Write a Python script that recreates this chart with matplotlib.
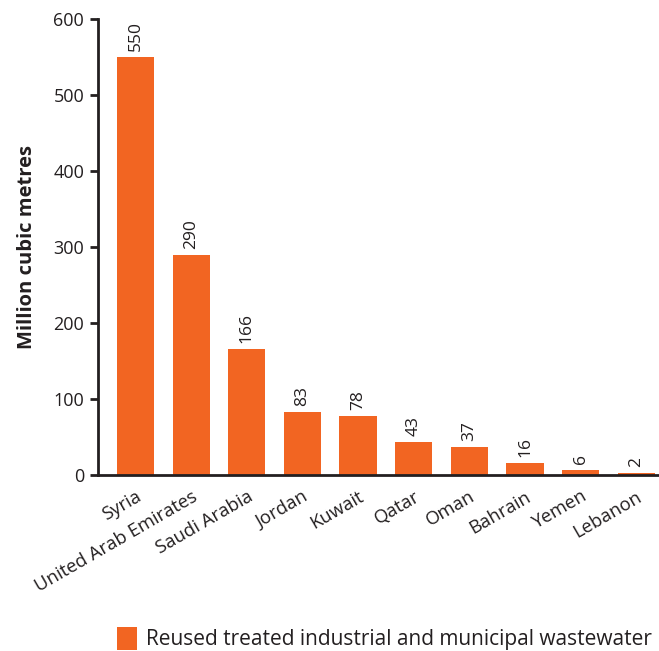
import matplotlib.pyplot as plt
import numpy as np

countries = ["Syria", "United Arab Emirates", "Saudi Arabia", "Jordan", "Kuwait",
             "Qatar", "Oman", "Bahrain", "Yemen", "Lebanon"]
values = [550, 290, 166, 83, 78, 43, 37, 16, 6, 2]
yticks = [0, 100, 200, 300, 400, 500, 600]

orange = "#F26522"
dark = "#231F20"

plt.rcParams["font.family"] = ["Open Sans", "DejaVu Sans"]

fig = plt.figure(figsize=(6.59, 6.51), dpi=100)
ax = fig.add_axes([0.1487, 0.2704, 0.8513, 0.7004])

x = np.arange(len(countries))
bars = ax.bar(x, values, width=0.67, color=orange,
              label="Reused treated industrial and municipal wastewater")

for xi, v in zip(x, values):
    ax.text(xi, v + 8, str(v), rotation=90, ha="center", va="bottom",
            fontsize=12.5, color=dark)

ax.set_xlim(-0.675, 9.41)
ax.set_ylim(0, 600)
ax.set_yticks(yticks)
ax.set_xticks(x)
ax.set_xticklabels(countries, rotation=30, ha="right", rotation_mode="anchor",
                   fontsize=13.3, color=dark)
ax.tick_params(axis="x", length=0, pad=9)
ax.tick_params(axis="y", length=6, width=2, color=dark, labelsize=13,
               labelcolor=dark, pad=4)
for s in ["top", "right"]:
    ax.spines[s].set_visible(False)
for s in ["left", "bottom"]:
    ax.spines[s].set_linewidth(2)
    ax.spines[s].set_color(dark)

ax.set_ylabel("Million cubic metres", fontsize=14.5, fontweight="bold",
              color=dark, labelpad=12)

fig.legend(loc="lower right", bbox_to_anchor=(1.018, -0.028), frameon=False,
           fontsize=15, handlelength=0.95, handleheight=1.35,
           handletextpad=0.45, labelcolor=dark)

fig.savefig("out.png", dpi=100)
